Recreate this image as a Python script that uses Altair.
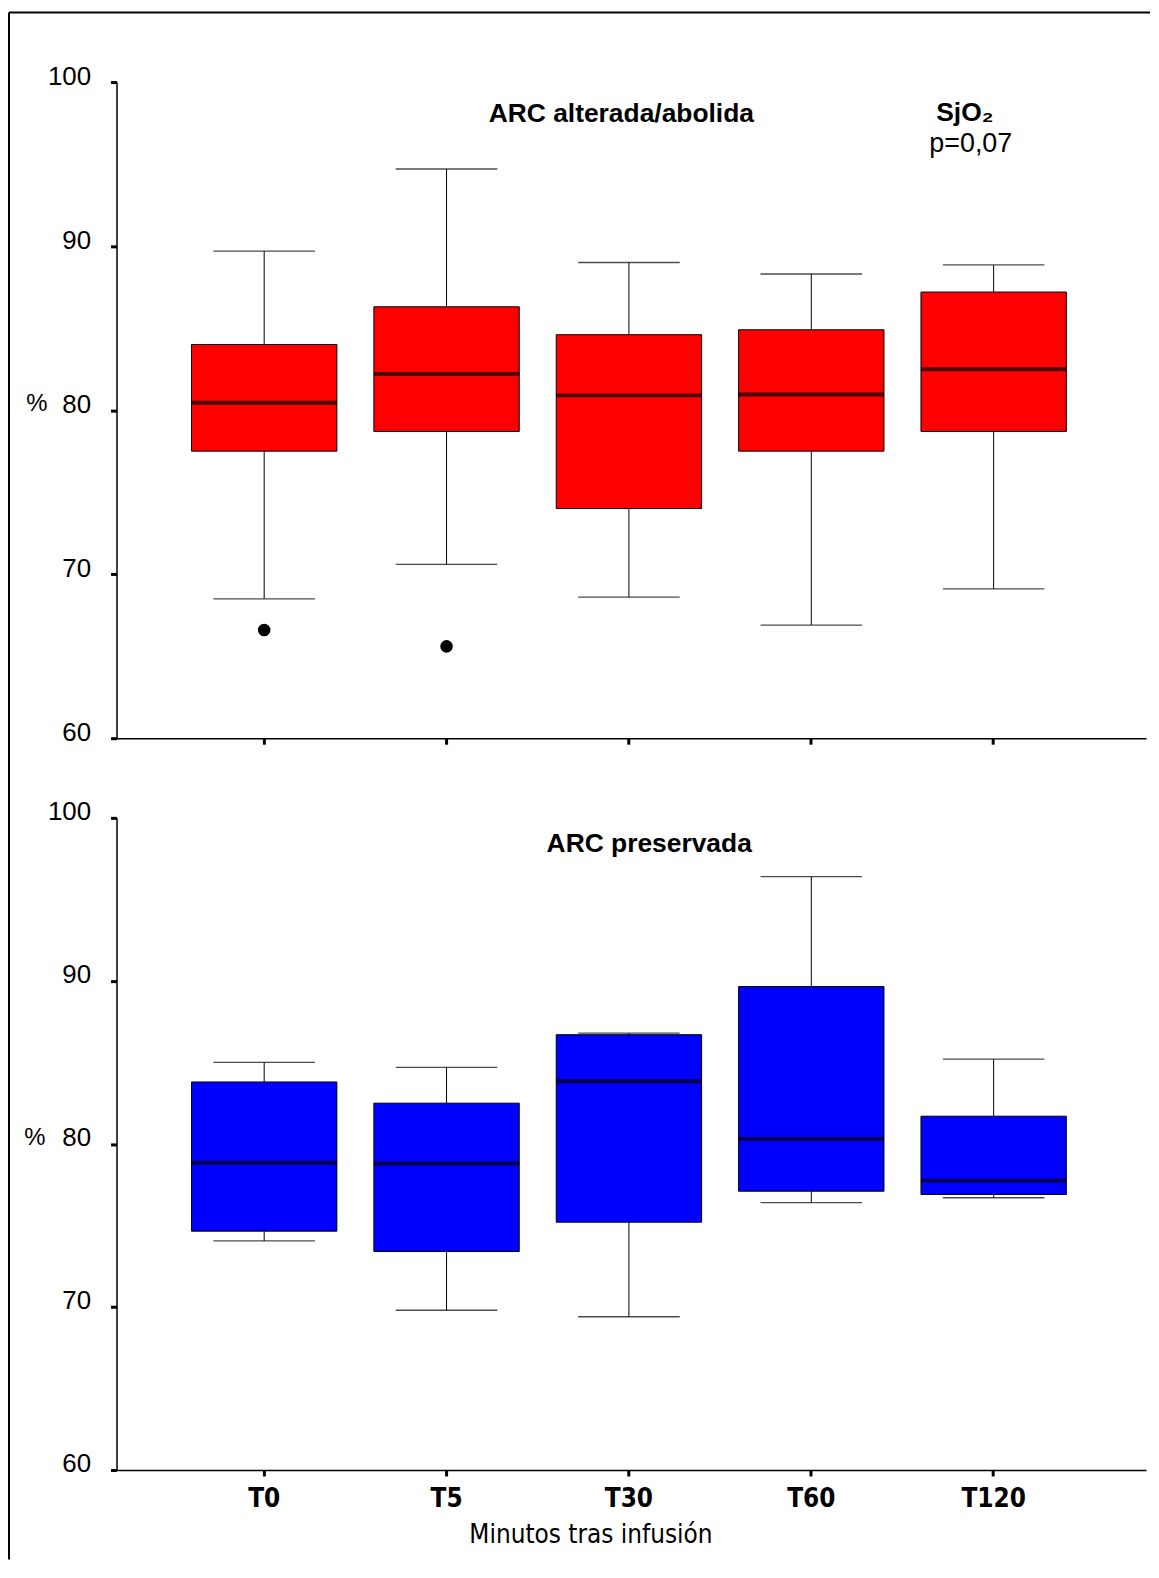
import altair as alt
import pandas as pd

categories = ["T0", "T5", "T30", "T60", "T120"]

# Top panel: ARC alterada/abolida (red)
top_min = [68.5, 70.6, 68.6, 66.9, 69.1]
top_q1 = [77.5, 78.7, 74.0, 77.5, 78.7]
top_med = [80.45, 82.2, 80.9, 80.95, 82.5]
top_q3 = [84.0, 86.3, 84.6, 84.9, 87.2]
top_max = [89.7, 94.7, 89.0, 88.3, 88.85]
top_out_cat = ["T0", "T5"]
top_out_val = [66.6, 65.6]

# Bottom panel: ARC preservada (blue)
bot_min = [74.05, 69.8, 69.4, 76.4, 76.7]
bot_q1 = [74.65, 73.4, 75.2, 77.1, 76.9]
bot_med = [78.85, 78.8, 83.85, 80.3, 77.75]
bot_q3 = [83.8, 82.5, 86.7, 89.65, 81.7]
bot_max = [85.0, 84.7, 86.8, 96.4, 85.2]

y_ticks = [60, 70, 80, 90, 100]

FONT = "Liberation Sans"
NARROW = "Liberation Sans Narrow, DejaVu Sans Condensed, Liberation Sans"

W = 1034
BOX = 146
CAP = 102


def xenc(show_labels):
    if show_labels:
        ax = alt.Axis(labels=True, labelFont=NARROW, labelFontWeight="bold",
                      labelFontSize=26, labelPadding=10, labelAngle=0,
                      labelColor="black",
                      ticks=True, tickSize=6, tickWidth=3, tickColor="black",
                      domainColor="black", domainWidth=1.5,
                      title="Minutos tras infusión", titleFont=NARROW,
                      titleFontWeight="normal", titleFontSize=26,
                      titleColor="black",
                      titleX=476, titleY=73, titleAlign="center",
                      titleBaseline="alphabetic")
    else:
        ax = alt.Axis(labels=False, title=None, ticks=True, tickSize=6,
                      tickWidth=3, tickColor="black", domainColor="black",
                      domainWidth=1.5)
    return alt.X("cat:N", sort=categories,
                 scale=alt.Scale(domain=categories, paddingInner=0,
                                 paddingOuter=0.3226, align=0.48),
                 axis=ax)


def yenc(field):
    return alt.Y(f"{field}:Q", title=None,
                 scale=alt.Scale(domain=[60, 100], nice=False, zero=False),
                 axis=alt.Axis(values=y_ticks, grid=False, title=None,
                               labelFont=FONT, labelFontSize=26,
                               labelColor="black", labelPadding=20,
                               labelOffset=-6, labelBaseline="middle",
                               tickSize=6, tickWidth=3, tickColor="black",
                               domainColor="black", domainWidth=1.5))


def panel(mins, q1, med, q3, maxs, color, height, show_labels, texts,
          out_cat=None, out_val=None, frame=False):
    df = pd.DataFrame({"cat": categories, "mn": mins, "q1": q1, "med": med,
                       "q3": q3, "mx": maxs})
    x = xenc(show_labels)
    base = alt.Chart(df)
    layers = []
    upper = base.mark_rule(color="black", strokeWidth=1).encode(
        x=x, y=yenc("q3"), y2="mx:Q")
    lower = base.mark_rule(color="black", strokeWidth=1).encode(
        x=x, y=yenc("mn"), y2="q1:Q")
    box = base.mark_bar(size=BOX, color=color, stroke="black",
                        strokeWidth=1).encode(x=x, y=yenc("q1"), y2="q3:Q")
    med_t = base.mark_tick(size=BOX, thickness=4, color="black").encode(
        x=x, y=yenc("med"))
    cap_hi = base.mark_tick(size=CAP, thickness=1.3, color="black").encode(
        x=x, y=yenc("mx"))
    cap_lo = base.mark_tick(size=CAP, thickness=1.3, color="black").encode(
        x=x, y=yenc("mn"))
    layers += [upper, lower, cap_hi, cap_lo, box, med_t]
    if out_cat:
        odf = pd.DataFrame({"cat": out_cat, "v": out_val})
        layers.append(alt.Chart(odf).mark_circle(size=160, color="black",
                                                 opacity=1).encode(
            x=x, y=yenc("v")))
    for (label, px, yv, weight, size, dy) in texts:
        tdf = pd.DataFrame({"label": [label], "ty": [yv]})
        layers.append(alt.Chart(tdf).mark_text(
            font=FONT, fontWeight=weight, fontSize=size, color="black",
            align="center", baseline="middle", dy=dy).encode(
            x=alt.value(px), y=yenc("ty"), text="label:N"))
    if frame:
        fdf = pd.DataFrame({"a": [0]})
        layers.append(alt.Chart(fdf).mark_rule(color="black",
                                               strokeWidth=2).encode(
            x=alt.value(-108), y=alt.value(-70), y2=alt.value(1484)))
        layers.append(alt.Chart(fdf).mark_rule(color="black",
                                               strokeWidth=2).encode(
            x=alt.value(-108), x2=alt.value(1038), y=alt.value(-70)))
    return alt.layer(*layers).properties(width=W, height=height)


top_texts = [
    ("ARC alterada/abolida", 507, 98.05, "bold", 26.5, 0),
    ("SjO₂", 852, 98.1, "bold", 26.5, 0),
    ("p=0,07", 858, 96.25, "normal", 27, 0),
    ("%", -80, 80, "normal", 24, -6),
]
bot_texts = [
    ("ARC preservada", 535, 98.41, "bold", 26.5, 0),
    ("%", -82, 80, "normal", 24, -6),
]

top = panel(top_min, top_q1, top_med, top_q3, top_max, "#FF0000", 659,
            False, top_texts, top_out_cat, top_out_val, frame=True)
bottom = panel(bot_min, bot_q1, bot_med, bot_q3, bot_max, "#0000FF", 655,
               True, bot_texts)

chart = alt.vconcat(top, bottom, spacing=80, bounds="flush").properties(
    padding={"left": 0, "top": 0, "right": 0, "bottom": 0}
).configure_view(stroke=None)

chart.save("out.html", embed_options={"renderer": "svg", "actions": False})
